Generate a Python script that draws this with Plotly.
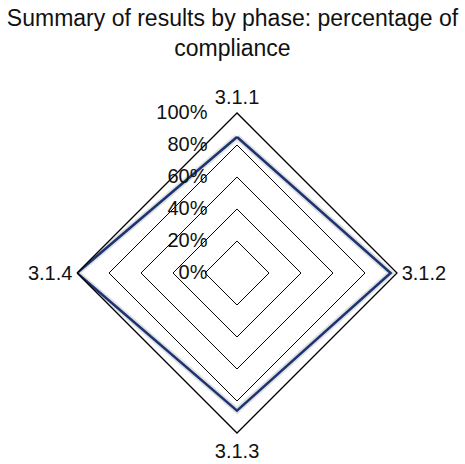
import plotly.graph_objects as go

categories = ["3.1.1", "3.1.2", "3.1.3", "3.1.4"]
compliance = [85, 96, 86, 100]
tick_values = [0, 20, 40, 60, 80, 100]
tick_labels = ["0%", "20%", "40%", "60%", "80%", "100%"]

theta = categories + categories[:1]
r = compliance + compliance[:1]

fig = go.Figure()
# soft shadow
fig.add_trace(go.Scatterpolar(
    r=r, theta=theta, mode="lines",
    line=dict(color="rgba(0,0,0,0.12)", width=6),
    hoverinfo="skip", showlegend=False,
))
fig.add_trace(go.Scatterpolar(
    r=r, theta=theta, mode="lines",
    line=dict(color="#1c3474", width=2.5),
    showlegend=False, name="Compliance",
))

fig.update_layout(
    width=465, height=464,
    margin=dict(l=0, r=0, t=0, b=0),
    paper_bgcolor="white",
    font=dict(family="Liberation Sans, Arial, sans-serif", size=20, color="#111"),
    title=dict(
        text="Summary of results by phase: percentage of<br>compliance",
        x=0.5, xanchor="center", yref="container", y=0.943, yanchor="middle",
        font=dict(size=23, color="#111"),
    ),
    polar=dict(
        domain=dict(x=[0.1656, 0.8538], y=[0.0668, 0.7565]),
        gridshape="linear",
        bgcolor="white",
        angularaxis=dict(
            rotation=90, direction="clockwise",
            showline=True, linecolor="black", linewidth=1.3,
            showgrid=False, ticks="", tickfont=dict(size=20, color="#111"),
        ),
        radialaxis=dict(
            range=[0, 100], angle=90, side="counterclockwise",
            tickvals=tick_values, ticktext=tick_labels,
            showline=False, ticks="outside", ticklen=22,
            tickcolor="rgba(0,0,0,0)",
            gridcolor="black", gridwidth=1.3,
            tickfont=dict(size=20, color="#111"),
            tickangle=90,
        ),
    ),
)

fig.write_html(
    "out.html",
    config={"displayModeBar": False},
    post_script="document.body.style.margin='0';document.body.style.overflow='hidden';",
)
